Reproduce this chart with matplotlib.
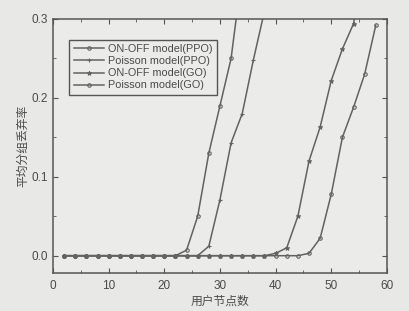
import matplotlib
matplotlib.use("Agg")
import matplotlib.pyplot as plt
from matplotlib.ticker import MultipleLocator

plt.rcParams['font.family'] = ['Liberation Sans', 'Noto Sans CJK SC', 'DejaVu Sans']

# ---------------------- 数据 ----------------------
x_onoff_ppo = [2, 4, 6, 8, 10, 12, 14, 16, 18, 20, 22, 24, 26, 28, 30, 32, 34]
y_onoff_ppo = [0, 0, 0, 0, 0, 0, 0, 0, 0, 0, 0, 0.007, 0.05, 0.13, 0.19, 0.25, 0.36]

x_poisson_ppo = [2, 4, 6, 8, 10, 12, 14, 16, 18, 20, 22, 24, 26, 28, 30, 32, 34, 36, 38]
y_poisson_ppo = [0, 0, 0, 0, 0, 0, 0, 0, 0, 0, 0, 0, 0, 0.012, 0.071, 0.143, 0.18, 0.248, 0.31]

x_onoff_go = [2, 4, 6, 8, 10, 12, 14, 16, 18, 20, 22, 24, 26, 28, 30, 32, 34, 36, 38,
              40, 42, 44, 46, 48, 50, 52, 54, 56]
y_onoff_go = [0, 0, 0, 0, 0, 0, 0, 0, 0, 0, 0, 0, 0, 0, 0, 0, 0, 0, 0,
              0.003, 0.01, 0.05, 0.12, 0.163, 0.222, 0.262, 0.294, 0.38]

x_poisson_go = [2, 4, 6, 8, 10, 12, 14, 16, 18, 20, 22, 24, 26, 28, 30, 32, 34, 36, 38,
                40, 42, 44, 46, 48, 50, 52, 54, 56, 58]
y_poisson_go = [0, 0, 0, 0, 0, 0, 0, 0, 0, 0, 0, 0, 0, 0, 0, 0, 0, 0, 0,
                0, 0, 0, 0.003, 0.022, 0.078, 0.15, 0.188, 0.23, 0.292]

labels = ["ON-OFF model(PPO)", "Poisson model(PPO)", "ON-OFF model(GO)", "Poisson model(GO)"]

BG = "#e8e8e6"
LINE = "#626262"
TXT = "#4a4a4a"

# ---------------------- 绘图 ----------------------
fig = plt.figure(figsize=(4.09, 3.11), dpi=100, facecolor=BG)
ax = fig.add_axes([0.1296, 0.122, 0.8164, 0.817], facecolor="#ebebe9")

ax.plot(x_onoff_ppo, y_onoff_ppo, color=LINE, lw=1.1, marker="o", ms=2.5,
        mfc="none", mew=0.8, label=labels[0])
ax.plot(x_poisson_ppo, y_poisson_ppo, color=LINE, lw=1.1, marker="+", ms=3.5,
        mew=0.8, label=labels[1])
ax.plot(x_onoff_go, y_onoff_go, color=LINE, lw=1.1, marker="*", ms=3.5,
        mew=0.6, label=labels[2])
ax.plot(x_poisson_go, y_poisson_go, color=LINE, lw=1.1, marker="o", ms=2.5,
        mfc="none", mew=0.8, label=labels[3])

ax.set_xlim(0, 60)
ax.set_ylim(-0.022, 0.3)
ax.xaxis.set_major_locator(MultipleLocator(10))
ax.xaxis.set_minor_locator(MultipleLocator(5))
ax.yaxis.set_major_locator(MultipleLocator(0.1))
ax.yaxis.set_minor_locator(MultipleLocator(0.05))
ax.yaxis.set_major_formatter(plt.FuncFormatter(lambda v, p: f"{v:.1f}"))
ax.tick_params(which="both", direction="in", top=True, right=True,
               colors="#555555", labelcolor=TXT, labelsize=8.5)
ax.tick_params(which="major", length=3.5)
ax.tick_params(which="minor", length=2)
ax.tick_params(axis="x", pad=5)
for s in ax.spines.values():
    s.set_color("#555555")
    s.set_linewidth(1.1)

ax.set_xlabel("用户节点数", fontsize=8.5, color=TXT, labelpad=3)
ax.set_ylabel("平均分组丢弃率", fontsize=8.5, color=TXT, labelpad=2)

leg = ax.legend(loc="upper left", bbox_to_anchor=(0.033, 0.94), fontsize=7.8,
                frameon=True, fancybox=False, edgecolor="#555555",
                facecolor="#ebebe9", framealpha=1, handlelength=2.8,
                borderpad=0.4, labelspacing=0.2, handletextpad=0.4)
leg.get_frame().set_linewidth(1.0)
for t in leg.get_texts():
    t.set_color(TXT)

fig.savefig("out.png", dpi=100, facecolor=BG)
